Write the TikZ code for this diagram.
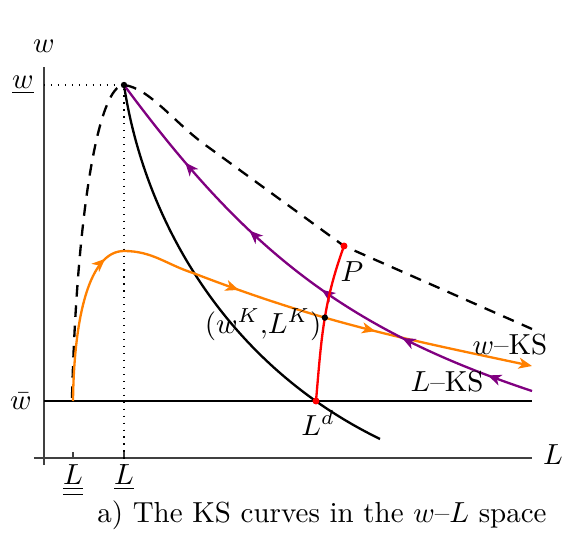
\documentclass[tikz,border=0pt]{standalone}
\usepackage{amsmath,amssymb}
\usepackage{xcolor}
\usepackage{tikz}
\usetikzlibrary{arrows.meta, decorations.markings, intersections, calc}

\definecolor{ksorange}{RGB}{255,128,0}
\definecolor{kspurple}{RGB}{128,0,128}

\begin{document}
\begin{tikzpicture}[
        x=1.212cm, y=1.212cm,
        >={Stealth[length=4.6pt, width=3.8pt, inset=1.3pt]},
        axis/.style={draw=black!75, line width=0.5pt},
        curve/.style={thick},
        boundary/.style={thick, dash pattern=on 4pt off 3pt},
        midarrows/.style={postaction={decorate}, decoration={markings, mark=between positions #1 with {\arrow{>}}}}
    ]

    \useasboundingbox (-0.44,-0.78) rectangle (5.20,4.58);

    % 1. Key points of the diagram
    \coordinate (peak) at (0.80,3.73);
    \coordinate (Ld) at (2.72,0.57);
    \coordinate (P) at (3.00,2.12);

    % 2. Axes, ticks and the reference levels
    \draw[axis] (-0.10,0) -- (4.88,0);
    \draw[axis] (0,-0.07) -- (0,3.91);
    \draw[axis] (0.29,0) -- (0.29,0.06);
    \draw[axis] (0.80,0) -- (0.80,0.06);
    \draw[dotted] (0,3.73) -- (peak) -- (0.80,-0.07);
    \draw[thick] (0,0.57) -- (4.88,0.57);

    \node (Laxis) at (5.09,0.03) {$L$};
    \node (waxis) at (0,4.12) {$w$};
    \node[left] (wunder) at (0,3.73) {$\underline{w}$};
    \node[left] (wbar) at (-0.02,0.57) {$\bar{w}$};
    \node[below, inner sep=1pt] (Lmin) at (0.29,-0.03) {$\underline{\underline{L}}$};
    \node[below, inner sep=1pt] (Lpeak) at (0.80,-0.03) {$\underline{L}$};

    % 3. Dashed boundary and the black curve
    \draw[boundary] (0.28,0.60) .. controls (0.33,2.5) and (0.55,3.73) .. (peak)
        .. controls (1.05,3.70) and (1.3,3.36) .. (1.6,3.14) -- (P) -- (4.88,1.29);
    \draw[curve] (peak) .. controls (1.0,2.4) and (1.8,0.95) .. (3.36,0.19);

    % 4. The KS curves (w-KS orange, L-KS purple)
    \draw[curve, ksorange, name path=wks, ->, midarrows={0.25 and 0.75 step 0.24}]
        (0.29,0.57) .. controls (0.30,1.4) and (0.45,2.07) .. (0.80,2.07)
        to[out=0, in=162] (1.49,1.85)
        to[out=-21, in=168] (4.88,0.92);
    \draw[curve, kspurple, midarrows={0.09 and 0.81 step 0.18}]
        (4.88,0.67) .. controls (2.98,1.30) and (2.0,2.11) .. (peak);

    % 5. Red curve from L^d to P
    \draw[curve, red, name path=redc] (Ld) to[out=85, in=250] (P);
    \path[name intersections={of=wks and redc, by=K}];

    \fill (peak) circle (1.1pt);
    \fill (K) circle (1.1pt);
    \fill[red] (Ld) circle (1.2pt);
    \fill[red] (P) circle (1.2pt);

    % 6. Labels
    \node (Plabel) at (3.08,1.86) {$P$};
    \node[left, inner sep=1pt] (Klabel) at ([yshift=-2.5pt]K) {$(w^K{,}L^K)$};
    \node (Ldlabel) at (2.74,0.35) {$L^d$};
    \node (wKS) at (4.66,1.13) {$w$--KS};
    \node (LKS) at (4.03,0.76) {$L$--KS};
    \node (caption) at (2.78,-0.57) {a) The KS curves in the $w$--$L$ space};

\end{tikzpicture}
\end{document}
